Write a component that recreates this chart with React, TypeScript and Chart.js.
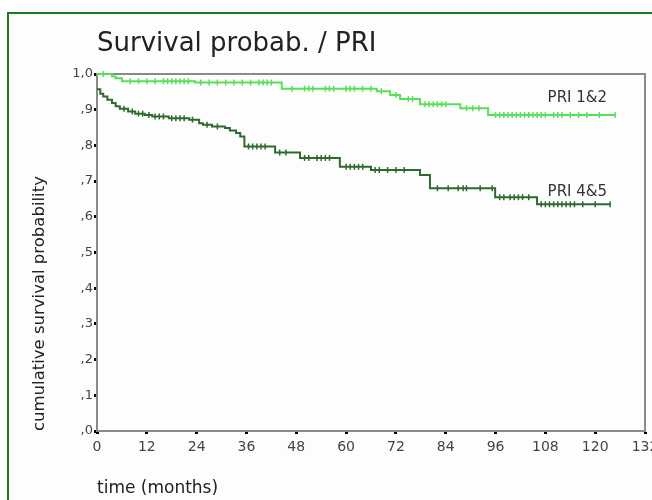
import React, { useEffect, useRef } from "react";
import { Chart, registerables } from "chart.js";

Chart.register(...registerables);

const chartTitle = "Survival probab. / PRI";
const yAxisTitle = "cumulative survival probability";
const xAxisTitle = "time (months)";
const seriesNames = ["PRI 1&2", "PRI 4&5"];

const xTickValues = [0, 12, 24, 36, 48, 60, 72, 84, 96, 108, 120, 132];
const yTickLabels = [",0", ",1", ",2", ",3", ",4", ",5", ",6", ",7", ",8", ",9", "1,0"];

// PRI 1&2 (Kaplan-Meier: event drops and censored marks)
const pri12Months = [
  0, 1.5, 3.6, 4.5, 6, 8, 10, 12, 14, 16, 17, 18, 19, 20, 21, 22,
  23.6, 25, 27, 29, 31, 33, 35, 37, 39, 40, 41, 42,
  44.5, 47, 50, 51, 52, 55, 56, 57, 60, 61, 62, 64, 66,
  67.4, 68.5, 70.6, 72, 73, 75, 76, 77.8, 79, 80, 81, 82, 83, 84,
  87.5, 89, 90.5, 92, 94.2, 96, 97, 98, 99, 100, 101, 102, 103, 104, 105,
  106, 107, 108, 110, 111, 112, 114, 116, 118, 121, 124.8,
];
const pri12Surv = [
  1.0, 1.0, 0.993, 0.988, 0.98, 0.98, 0.98, 0.98, 0.98, 0.98, 0.98, 0.98, 0.98, 0.98, 0.98, 0.98,
  0.976, 0.976, 0.976, 0.976, 0.976, 0.976, 0.976, 0.976, 0.976, 0.976, 0.976, 0.976,
  0.959, 0.959, 0.959, 0.959, 0.959, 0.959, 0.959, 0.959, 0.959, 0.959, 0.959, 0.959, 0.959,
  0.952, 0.952, 0.941, 0.941, 0.93, 0.93, 0.93, 0.915, 0.915, 0.915, 0.915, 0.915, 0.915, 0.915,
  0.904, 0.904, 0.904, 0.904, 0.885, 0.885, 0.885, 0.885, 0.885, 0.885, 0.885, 0.885, 0.885, 0.885, 0.885,
  0.885, 0.885, 0.885, 0.885, 0.885, 0.885, 0.885, 0.885, 0.885, 0.885, 0.885,
];

// PRI 4&5
const pri45Months = [
  0, 0.8, 1.5, 2.5, 3.6, 4.5, 5.5, 6.5, 7.5, 8.5, 9.2, 10, 11, 11.5, 12.5,
  13.3, 14, 15, 16, 17.3, 18, 19, 20, 21, 22.2, 23, 24.6, 25.5, 26.5, 27.7, 29,
  30.8, 32, 33.5, 34.5, 35.5, 36.5, 37.5, 38.5, 39.5, 40.5, 42.9, 44, 45.5,
  48.9, 50, 51, 53, 54, 55, 56, 58.5, 60, 61, 62, 63, 64,
  66, 67, 68, 70, 72, 74, 77.8, 80.2, 82, 84.6, 87, 88.2, 89, 92.3, 95.2,
  95.9, 97, 98, 99.5, 100.5, 101.5, 102.5, 104,
  106, 107, 108, 109, 110, 111, 112, 113, 114, 115, 117, 120, 123.6,
];
const pri45Surv = [
  0.957, 0.945, 0.937, 0.928, 0.919, 0.91, 0.903, 0.903, 0.895, 0.895, 0.889, 0.889, 0.889, 0.885, 0.885,
  0.881, 0.881, 0.881, 0.881, 0.876, 0.876, 0.876, 0.876, 0.876, 0.872, 0.872, 0.862, 0.858, 0.858, 0.853, 0.853,
  0.849, 0.842, 0.835, 0.825, 0.797, 0.797, 0.797, 0.797, 0.797, 0.797, 0.78, 0.78, 0.78,
  0.765, 0.765, 0.765, 0.765, 0.765, 0.765, 0.765, 0.74, 0.74, 0.74, 0.74, 0.74, 0.74,
  0.731, 0.731, 0.731, 0.731, 0.731, 0.731, 0.717, 0.68, 0.68, 0.68, 0.68, 0.68, 0.68, 0.68, 0.68,
  0.655, 0.655, 0.655, 0.655, 0.655, 0.655, 0.655, 0.655,
  0.635, 0.635, 0.635, 0.635, 0.635, 0.635, 0.635, 0.635, 0.635, 0.635, 0.635, 0.635, 0.635,
];

const FONT = "'DejaVu Sans', Verdana, sans-serif";
const LIGHT = "#58e058";
const DARK = "#2e6a2e";

function toPoints(xs: number[], ys: number[]) {
  return xs.map((x, i) => ({ x, y: ys[i] }));
}

function censorRadius(ys: number[]) {
  return (ctx: any) => {
    const i = ctx.dataIndex;
    if (i === 0) return 0;
    return ys[i] === ys[i - 1] ? 3 : 0;
  };
}

const frameAndLabels = {
  id: "frameAndLabels",
  beforeDatasetsDraw(chart: any) {
    const { ctx, chartArea } = chart;
    ctx.save();
    ctx.strokeStyle = "#8a8a8a";
    ctx.lineWidth = 2;
    ctx.beginPath();
    ctx.moveTo(chartArea.left, chartArea.top);
    ctx.lineTo(chartArea.right, chartArea.top);
    ctx.lineTo(chartArea.right, chartArea.bottom);
    ctx.stroke();
    ctx.restore();
  },
  afterDatasetsDraw(chart: any) {
    const { ctx, scales } = chart;
    ctx.save();
    ctx.fillStyle = "#333";
    ctx.font = `15px ${FONT}`;
    ctx.textAlign = "center";
    ctx.textBaseline = "middle";
    const anchors = [
      [115.7, 0.932],
      [115.7, 0.67],
    ];
    seriesNames.forEach((name, i) => {
      ctx.fillText(name, scales.x.getPixelForValue(anchors[i][0]), scales.y.getPixelForValue(anchors[i][1]));
    });
    ctx.restore();
  },
};

export default function App() {
  const ref = useRef<HTMLCanvasElement>(null);
  useEffect(() => {
    if (!ref.current) return;
    const chart = new Chart(ref.current, {
      type: "line",
      data: {
        datasets: [
          {
            label: seriesNames[0],
            data: toPoints(pri12Months, pri12Surv),
            borderColor: LIGHT,
            backgroundColor: LIGHT,
            borderWidth: 2,
            stepped: "before",
            pointStyle: "line",
            rotation: 90,
            pointRadius: censorRadius(pri12Surv),
            pointBorderWidth: 1.5,
            pointBorderColor: LIGHT,
            clip: 4,
          },
          {
            label: seriesNames[1],
            data: toPoints(pri45Months, pri45Surv),
            borderColor: DARK,
            backgroundColor: DARK,
            borderWidth: 2,
            stepped: "before",
            pointStyle: "line",
            rotation: 90,
            pointRadius: censorRadius(pri45Surv),
            pointBorderWidth: 1.5,
            pointBorderColor: DARK,
            clip: 4,
          },
        ] as any,
      },
      options: {
        animation: false,
        responsive: false,
        maintainAspectRatio: false,
        layout: { padding: { left: 0, top: 0, right: 35, bottom: 0 } },
        plugins: {
          legend: { display: false },
          tooltip: { enabled: false },
          title: {
            display: true,
            text: chartTitle,
            align: "start",
            fullSize: false,
            color: "#222",
            font: { family: FONT, size: 26, weight: "normal", lineHeight: 1.2 },
            padding: { top: 28.4, bottom: 14.4 },
          },
        },
        scales: {
          x: {
            type: "linear",
            min: 0,
            max: 132,
            afterBuildTicks: (scale: any) => {
              scale.ticks = xTickValues.map((v) => ({ value: v }));
            },
            afterFit: (scale: any) => {
              scale.height = 89;
            },
            ticks: {
              color: "#444",
              font: { family: FONT, size: 14 },
              padding: 5,
              maxRotation: 0,
              autoSkip: false,
            },
            grid: {
              drawOnChartArea: false,
              drawTicks: true,
              tickLength: 3,
              tickWidth: 3,
              tickColor: "#000",
            },
            border: { display: true, color: "#8a8a8a", width: 2 },
            title: {
              display: true,
              text: xAxisTitle,
              align: "start",
              color: "#222",
              font: { family: FONT, size: 17, lineHeight: 1.2 },
              padding: { top: 0, bottom: 20.8 },
            },
          },
          y: {
            type: "linear",
            min: 0,
            max: 1,
            ticks: {
              stepSize: 0.1,
              color: "#444",
              font: { family: FONT, size: 13 },
              padding: 1,
              callback: (_v: any, i: number) => yTickLabels[i],
            },
            afterFit: (scale: any) => {
              scale.width = 97;
            },
            grid: {
              drawOnChartArea: false,
              drawTicks: true,
              tickLength: 3,
              tickWidth: 3,
              tickColor: "#000",
            },
            border: { display: true, color: "#8a8a8a", width: 2 },
            title: {
              display: true,
              text: yAxisTitle,
              align: "start",
              color: "#222",
              font: { family: FONT, size: 16.5, lineHeight: 1.2 },
              padding: { top: 30, bottom: 0 },
            },
          },
        },
      } as any,
      plugins: [frameAndLabels],
    });
    return () => chart.destroy();
  }, []);

  return (
    <div
      style={{
        position: "fixed",
        left: 0,
        top: 0,
        width: 652,
        height: 500,
        overflow: "hidden",
        background: "#fff",
      }}
    >
      <div
        style={{
          position: "absolute",
          left: 7,
          top: 12,
          width: 700,
          height: 600,
          borderLeft: "2px solid #1c7a1c",
          borderTop: "2px solid #1c7a1c",
          background: "#fdfdfd",
        }}
      />
      <canvas
        ref={ref}
        width={680}
        height={520}
        style={{ position: "absolute", left: 0, top: 0, width: 680, height: 520 }}
      />
    </div>
  );
}
